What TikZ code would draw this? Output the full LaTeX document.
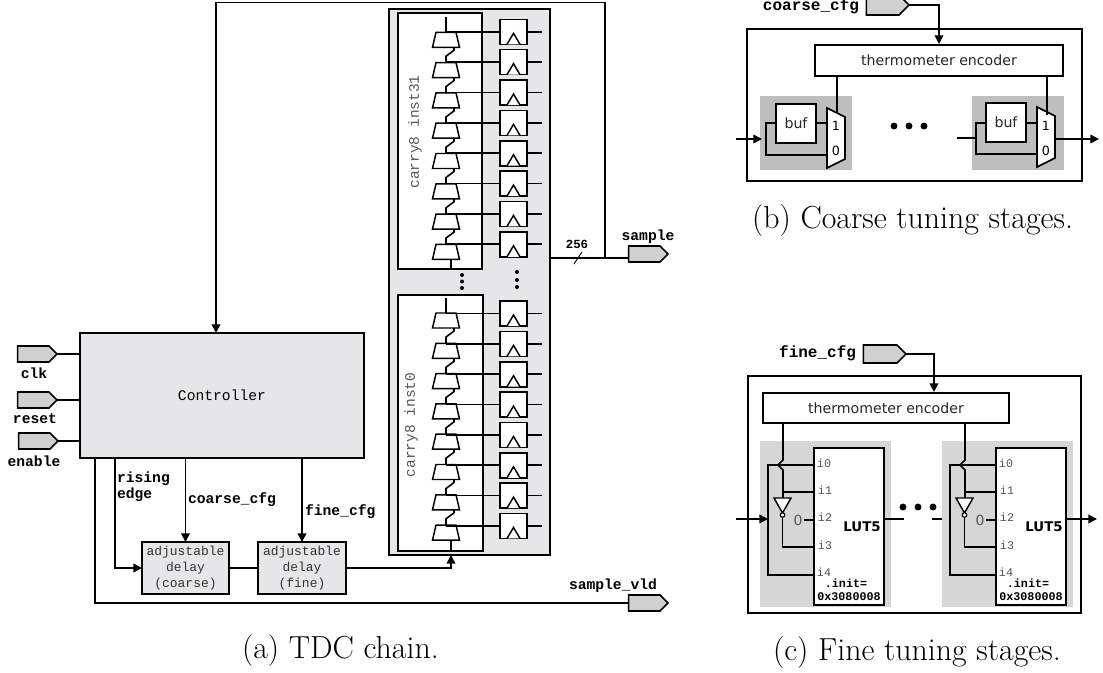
\documentclass[tikz,border=0pt]{standalone}
\usepackage{fontspec}
\usetikzlibrary{arrows.meta,shapes.symbols}
\newfontfamily\cmono{Liberation Mono}
\newfontfamily\dsans{DejaVu Sans}
\newcommand{\bx}[7]{\node[#6,minimum width={((#4)-(#2))*0.75pt},minimum height={((#5)-(#3))*0.75pt}] (#1) at ({((#2)+(#4))/2},{((#3)+(#5))/2}) {#7};}
\definecolor{panel}{HTML}{E6E6E8}
\definecolor{pinfill}{HTML}{D0D0D0}
\definecolor{stagedark}{HTML}{BEBEBE}
\definecolor{stagelight}{HTML}{D6D6D6}
\definecolor{txtgray}{HTML}{555555}
\tikzset{
  wire/.style={line width=1.2pt,black,line join=miter},
  arr/.style={wire,-{Triangle[length=6.5pt,width=6.5pt]}},
  boxd/.style={draw=black,line width=1.2pt,inner sep=0pt,outer sep=0pt,rectangle},
  whitebox/.style={boxd,fill=white},
  greybox/.style={boxd,fill=panel},
  plain/.style={inner sep=0pt,outer sep=0pt,minimum width=0pt,minimum height=0pt,rectangle},
  pinbox/.style={signal,signal to=east,signal pointer angle=90,draw=black,line width=1.2pt,fill=pinfill,inner sep=0pt,outer sep=0pt,minimum width=29.5pt,minimum height=12pt,anchor=east},
  muxu/.style={plain,minimum width=20.25pt,minimum height=11.25pt},
  muxs/.style={plain,minimum width=13.5pt,minimum height=45pt},
  muxline/.style={draw=black,fill=white,line width=1.1pt},
  lab/.style={plain,font=\cmono\bfseries\fontsize{11}{12}\selectfont},
  labbig/.style={plain,font=\cmono\bfseries\fontsize{12}{13}\selectfont},
  monot/.style={plain,font=\cmono\fontsize{11}{12}\selectfont},
  delayt/.style={font=\cmono\fontsize{9.7}{12}\selectfont,align=center,text=black!80},
  carryt/.style={plain,font=\cmono\fontsize{10.9}{12}\selectfont,text=txtgray,rotate=90},
  enct/.style={font=\dsans\fontsize{10.6}{12}\selectfont,text=black!85},
  itxt/.style={plain,font=\cmono\fontsize{8.8}{10}\selectfont,text=txtgray},
  zero/.style={plain,font=\dsans\fontsize{10.5}{12}\selectfont,text=txtgray},
  capt/.style={plain,font=\fontsize{23.9}{26}\selectfont},
  dotn/.style={circle,fill=black,inner sep=0pt,outer sep=0pt},
  muxnum/.style={plain,font=\dsans\fontsize{9.5}{10}\selectfont},
}
\begin{document}
\begin{tikzpicture}[x=0.75pt,y=-0.75pt]
\useasboundingbox (0,0) rectangle (1103,672);
% ---- TDC chain
\bx{chain}{389}{9}{550}{555}{boxd,fill=panel}{}
\bx{cu}{398}{13}{482}{269}{whitebox}{}
\bx{cl}{398}{295}{483}{551}{whitebox}{}
\node[carryt] (cut) at (415,132) {carry8 inst31};
\node[carryt] (clt) at (411,425) {carry8 inst0};
\foreach \nm/\fm/\ya/\yf in {mu/fu/32.3/19.3, ml/fl/313/301}{
  \foreach \i in {0,...,7}{
    \pgfmathsetmacro{\my}{\ya+30.3*\i+7.5}
    \pgfmathsetmacro{\fy}{\yf+30.35*\i+12.5}
    \node[muxu] (\nm\i) at (446,\my) {};
    \draw[muxline] (\nm\i.south) ++(-13.5,0) -- ++(3.5,-15) -- ++(20,0) -- ++(3.5,15) -- cycle;
    \bx{\fm\i}{500}{\fy-12.5}{527}{\fy+12.5}{whitebox}{}
    \draw[wire] (\fm\i.west) -- (\fm\i.west -| \nm\i.north);
    \draw[wire] (\fm\i.east) -- ++(14.5,0);
    \draw[wire,line width=1.1pt,fill=white] (\fm\i.south) ++(-6.5,0) -- ++(6.5,-11) -- ++(6.5,11);
  }
  \draw[wire] (\nm0.north) -- ++(0,-15);
  \foreach \i/\j in {0/1,1/2,2/3,3/4,4/5,5/6,6/7}{
    \draw[wire] (\nm\i.south) ++(8,0) -- ++(0,3) -- ++(-8,6) -- (\nm\j.north);
  }
}
\draw[wire] (mu7.south) ++(5,0) -- ++(0,11);
\draw[wire] (ml7.south) ++(5,0) coordinate (chainin) -- ++(0,11);
\foreach \n/\x/\y in {a/462/275,b/462/281.5,c/462/288,d/517/272,e/517/280,f/517/287}{
  \node[dotn,minimum size=3pt] (dots\n) at (\x,\y) {};
}
% ---- Controller
\bx{ctrl}{80}{333}{364}{458}{greybox}{}
\node[monot] (ctrlt) at (222,395) {Controller};
\node[pinbox] (clk) at (57,354) {};
\node[pinbox] (reset) at (57,400) {};
\node[pinbox] (enable) at (58,441) {};
\node[lab] (clkt) at (34,373) {clk};
\node[lab] (resett) at (35,419) {reset};
\node[lab] (enablet) at (34,461) {enable};
\draw[wire] (clk.east) -- (clk.east -| ctrl.west);
\draw[wire] (reset.east) -- (reset.east -| ctrl.west);
\draw[wire] (enable.east) -- (enable.east -| ctrl.west);
% delay
\bx{dc}{142}{542}{229}{594}{greybox,delayt}{adjustable\\delay\\(coarse)}
\bx{df}{258}{542}{346}{594}{greybox,delayt}{adjustable\\delay\\(fine)}
\coordinate (re) at (115,458);
\coordinate (sv) at (95,458);
\coordinate (cc) at (185.5,458);
\coordinate (fc) at (302,458);
\draw[arr] (re) |- (dc.west);
\draw[arr] (cc) -- (cc |- dc.north);
\draw[arr] (fc) -- (fc |- df.north);
\draw[wire] (dc.east) -- (df.west);
\draw[arr] (df.east) -| (chainin |- chain.south);
\node[lab,anchor=base west] (ret1) at (117,482) {rising};
\node[lab,anchor=base west] (ret2) at (117,498) {edge};
\node[lab,anchor=base west] (cct) at (188,503) {coarse\_cfg};
\node[lab,anchor=base west] (fct) at (305,515) {fine\_cfg};
% sample
\node[pinbox] (sample) at (668,254) {};
\node[lab] (samplet) at (648,237) {sample};
\node[pinbox] (svld) at (668,603) {};
\node[lab,anchor=base] (svldt) at (613,589) {sample\_vld};
\draw[wire] (sv) |- (svld.west);
\coordinate (sj) at (605,258);
\draw[wire] (chain.east |- sj) -- (sample.west |- sj);
\coordinate (tk1) at (574,264);
\coordinate (tk2) at (582,252);
\draw[line width=.7pt] (tk1) -- (tk2);
\node[plain,font=\cmono\bfseries\fontsize{9.3}{10}\selectfont] (w256) at (577,244) {256};
\coordinate (fb) at (216,2.5);
\draw[arr] (sj) |- (fb) -- (ctrl.north -| fb);
% ---- Coarse
\bx{co}{747}{29}{1082}{181}{boxd}{}
\bx{ce}{815}{45}{1063}{76}{whitebox,enct}{thermometer encoder}
\node[pinbox,minimum width=32pt,minimum height=15pt] (cpin) at (909,5) {};
\node[labbig,anchor=base east] (cpt) at (859,10.5) {coarse\_cfg};
\coordinate (cein) at (939,44);
\draw[arr] (cpin.east) -| (cein);
\bx{sa}{760}{96}{852}{170}{rectangle,fill=stagedark}{}
\bx{sb}{972}{96}{1064}{170}{rectangle,fill=stagedark}{}
\bx{ba}{776}{104}{816}{143}{whitebox,enct}{buf}
\bx{bb}{986}{103}{1026}{142}{whitebox,enct}{buf}
\node[muxs] (ma) at (836,138) {};
\node[muxs] (mb) at (1046,137) {};
\foreach \m in {ma,mb}{
  \draw[muxline,line width=1.2pt] (\m.center) ++(-9,-30) -- ++(18,9) -- ++(0,42) -- ++(-18,9) -- cycle;
}
\node[muxnum] (ma1) at (836,126) {1};
\node[muxnum] (ma0) at (836,151) {0};
\node[muxnum] (mb1) at (1046,126) {1};
\node[muxnum] (mb0) at (1046,151) {0};
\coordinate (ta) at (837,113);
\coordinate (tb) at (1047,115);
\draw[wire] (ce.south -| ta) -- (ta);
\draw[wire] (ce.south -| tb) -- (tb);
\coordinate (cin) at (736,139);
\draw[arr] (cin) -- (762,139);
\draw[wire] (ba.west |- 0,123) -- (766,123) -- (766,155) -- (827,155);
\draw[wire] (ba.east |- 0,123) -- (827,123);
\draw[wire] (bb.west |- 0,123) -- (976,123) -- (976,154) -- (1037,154);
\draw[wire] (bb.east |- 0,123) -- (1037,123);
\coordinate (cin2) at (957,138);
\draw[wire] (cin2) -- (976,138);
\coordinate (cout) at (1099,139);
\draw[arr] (1055,139) -- (cout);
\foreach \n/\x in {a/894,b/909,c/924}{\node[dotn,minimum size=5.2pt] (cd\n) at (\x,126) {};}
% ---- Fine
\bx{fo}{748}{376}{1081}{613}{boxd}{}
\bx{fe}{763}{393}{1009}{423}{whitebox,enct}{thermometer encoder}
\node[pinbox,minimum width=32pt,minimum height=13.5pt] (fpin) at (906,354) {};
\node[labbig,anchor=base east] (fpt) at (856,357) {fine\_cfg};
\coordinate (fein) at (934,392);
\draw[arr] (fpin.east) -| (fein);
\foreach \s/\k in {0/a,182/b}{
  \begin{scope}[xshift=\s*0.75pt]
  \bx{fs\k}{760}{441}{891}{607}{rectangle,fill=stagelight}{}
  \bx{lut\k}{814}{448}{884}{605}{whitebox}{}
  \draw[wire] (lut\k.west |- 0,465) -- (768,465) -- (768,575) -- (lut\k.west |- 0,575);
  \draw[wire] (783,423) -- (783,460) -- (778,465) -- (783,470) -- (783,498);
  \draw[wire] (783,492) -- (lut\k.west |- 0,492);
  \draw[wire,line width=1.1pt,fill=white] (774,498) -- (791,498) -- (782.5,513) -- cycle;
  \node[circle,draw=black,fill=white,line width=.9pt,inner sep=0pt,minimum size=3.4pt] (bub\k) at (782.5,515) {};
  \draw[wire] (bub\k.south) -- (782.5,547) -- (lut\k.west |- 0,547);
  \node[zero] (z\k) at (798,520) {0};
  \draw[wire] (z\k.east) ++(2,0) -- (lut\k.west |- z\k.east);
  \node[itxt] (i0\k) at (824,463) {i0};
  \node[itxt] (i1\k) at (825,490) {i1};
  \node[itxt] (i2\k) at (825,517) {i2};
  \node[itxt] (i3\k) at (825,545) {i3};
  \node[itxt] (i4\k) at (824,572) {i4};
  \node[plain,font=\dsans\bfseries\fontsize{10}{12}\selectfont] (lt\k) at (862,527) {LUT5};
  \node[plain,font=\cmono\bfseries\fontsize{8.8}{10}\selectfont] (in\k) at (846,583) {.init=};
  \node[plain,font=\cmono\bfseries\fontsize{8.8}{10}\selectfont] (hx\k) at (849,597) {0x3080008};
  \end{scope}
}
\coordinate (fi) at (736,519);
\draw[arr] (fi) -- (768,519);
\coordinate (fm1) at (904,519);
\coordinate (fm2) at (932,519);
\coordinate (fou) at (1097,519);
\draw[wire] (luta.east |- fm1) -- (fm1);
\draw[wire] (fm2) -- (fsb.west |- fm2);
\draw[arr] (lutb.east |- fou) -- (fou);
\foreach \n/\x in {a/903,b/918,c/933}{\node[dotn,minimum size=5.2pt] (fd\n) at (\x,507) {};}
% ---- captions
\node[capt,anchor=base west] (capa) at (242,658) {(a) TDC chain.};
\node[capt,anchor=base east] (capb) at (1073,228) {(b) Coarse tuning stages.};
\node[capt,anchor=base west] (capc) at (773,660) {(c) Fine tuning stages.};
\end{tikzpicture}
\end{document}
